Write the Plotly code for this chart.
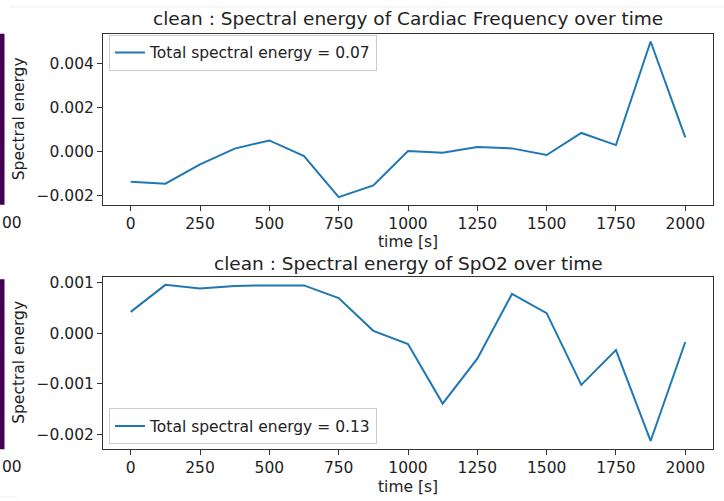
import plotly.graph_objects as go

time_s = [0, 125, 250, 375, 500, 625, 750, 875, 1000, 1125, 1250, 1375, 1500, 1625, 1750, 1875, 2000]
cardiac_energy = [-0.00136, -0.00145, -0.00058, 0.00014, 0.00051, -0.00020, -0.00206, -0.00153,
                  0.00003, -0.00005, 0.00021, 0.00015, -0.00015, 0.00085, 0.00030, 0.00500, 0.00065]
spo2_energy = [0.000426, 0.00096, 0.00089, 0.00094, 0.00095, 0.00095, 0.00070, 0.00005,
               -0.00021, -0.00139, -0.00050, 0.00078, 0.00040, -0.00102, -0.00033, -0.00213, -0.00017]
cardiac_total = 0.07
spo2_total = 0.13
titles = ["clean : Spectral energy of Cardiac Frequency over time",
          "clean : Spectral energy of SpO2 over time"]
x_ticks = [0, 250, 500, 750, 1000, 1250, 1500, 1750, 2000]
y_ticks_top = [-0.002, 0.0, 0.002, 0.004]
y_ticks_bottom = [-0.002, -0.001, 0.0, 0.001]

W, H = 724, 501
FONT = "DejaVu Sans"
C0 = "#1f77b4"
TXT = "#222222"
FS = 15.5

def px(x):
    return x / W

def py(y):
    return 1 - y / H

fig = go.Figure()
fig.add_trace(go.Scatter(x=time_s, y=cardiac_energy, mode="lines",
                         line=dict(color=C0, width=2),
                         name=f"Total spectral energy = {cardiac_total}",
                         xaxis="x", yaxis="y", legend="legend"))
fig.add_trace(go.Scatter(x=time_s, y=spo2_energy, mode="lines",
                         line=dict(color=C0, width=2),
                         name=f"Total spectral energy = {spo2_total}",
                         xaxis="x2", yaxis="y2", legend="legend2"))

axis_common = dict(showgrid=False, zeroline=False, showline=True, linecolor="#333333",
                   linewidth=1, mirror=True, ticks="outside", ticklen=5, tickwidth=1,
                   tickcolor="#333333", tickfont=dict(family=FONT, size=FS, color=TXT))

xl, xr = px(103), px(713)
top_dom = [py(203), py(31)]
bot_dom = [py(448.5), py(275.7)]

fig.update_layout(
    width=W, height=H, margin=dict(l=0, r=0, t=0, b=0),
    paper_bgcolor="white", plot_bgcolor="white",
    font=dict(family=FONT, size=FS, color=TXT),
    xaxis=dict(domain=[xl, xr], anchor="y", range=[-100, 2100], tickvals=x_ticks, **axis_common),
    yaxis=dict(domain=top_dom, anchor="x", range=[-0.00241, 0.00535], tickvals=y_ticks_top,
               tickformat=".3f", **axis_common),
    xaxis2=dict(domain=[xl, xr], anchor="y2", range=[-100, 2100], tickvals=x_ticks, **axis_common),
    yaxis2=dict(domain=bot_dom, anchor="x2", range=[-0.002285, 0.001115], tickvals=y_ticks_bottom,
                tickformat=".3f", **axis_common),
    legend=dict(x=px(109), y=py(32), xanchor="left", yanchor="top",
                bgcolor="rgba(255,255,255,0.8)", bordercolor="#cccccc", borderwidth=1,
                font=dict(family=FONT, size=FS, color=TXT)),
    legend2=dict(x=px(109), y=py(444), xanchor="left", yanchor="bottom",
                 bgcolor="rgba(255,255,255,0.8)", bordercolor="#cccccc", borderwidth=1,
                 font=dict(family=FONT, size=FS, color=TXT)),
    showlegend=True,
)

ann = []
def add_text(text, x, y, size, angle=0, xanchor="center"):
    ann.append(dict(text=text, x=px(x), y=py(y), xref="paper", yref="paper",
                    xanchor=xanchor, yanchor="middle", showarrow=False, textangle=angle,
                    font=dict(family=FONT, size=size, color=TXT)))

add_text(titles[0], 408, 16, 18.5)
add_text(titles[1], 408, 262, 18.5)
add_text("time [s]", 408, 240, FS)
add_text("time [s]", 408, 487, FS)
for yy in (117, 362):
    add_text("Spectral energy", 19, yy, FS, angle=-90)
for yy in (221, 467):
    add_text("00", 0, yy, FS, xanchor="left")
fig.update_layout(annotations=ann)

shapes = []
for (y0, y1) in ((31, 203), (278, 449)):
    shapes.append(dict(type="rect", xref="paper", yref="paper", x0=0, x1=px(4.5),
                       y0=py(y1), y1=py(y0), fillcolor="#440154", line=dict(width=0)))
shapes.append(dict(type="line", xref="paper", yref="paper", x0=px(10), x1=1, y0=py(4), y1=py(4),
                   line=dict(color="#eeeeee", width=1)))
shapes.append(dict(type="line", xref="paper", yref="paper", x0=0, x1=px(17), y0=py(497), y1=py(497),
                   line=dict(color="#eeeeee", width=1)))
fig.update_layout(shapes=shapes)

fig.write_html("out.html")
